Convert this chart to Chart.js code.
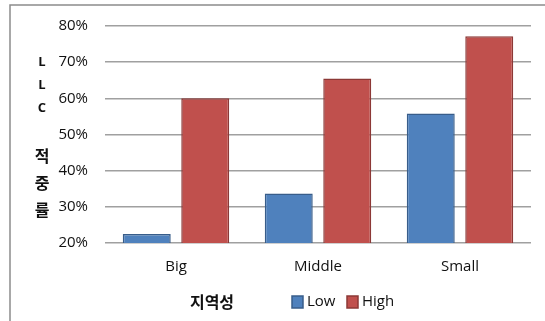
<!DOCTYPE html>
<html>
<head>
<meta charset="utf-8">
<script src="https://cdn.jsdelivr.net/npm/chart.js@4"></script>
<style>
  html, body { margin: 0; padding: 0; background: #fff; }
  #wrap { width: 545px; height: 321px; }
</style>
</head>
<body>
<div id="wrap"><canvas id="hitChart"></canvas></div>
<script>
const regions = ['Big', 'Middle', 'Small'];
const seriesNames = ['Low', 'High'];
const lowValues = [22.5, 33.7, 55.8];
const highValues = [60.0, 65.5, 77.2];
const yTitleChars = ['L', 'L', 'C', '적', '중', '률'];
const xTitle = '지역성';

const FONT = "'Open Sans', 'Noto Sans CJK KR', sans-serif";
const KFONT = "'Noto Sans CJK KR', 'Open Sans', sans-serif";

// frame, stacked y title, x title and legend are drawn by hand
const extras = {
    id: 'extras',
    beforeDraw(chart) {
        const c = chart.ctx;
        c.save();
        c.strokeStyle = '#8c8c8c';
        c.lineWidth = 1.5;
        c.beginPath();
        c.moveTo(10, 321);
        c.lineTo(10, 5);
        c.lineTo(545, 5);
        c.stroke();
        c.restore();
    },
    afterDraw(chart) {
        const c = chart.ctx;
        c.save();
        c.fillStyle = '#111';
        c.textAlign = 'center';
        c.textBaseline = 'middle';
        const ys = [62, 85, 108, 156, 183, 210];
        yTitleChars.forEach((ch, i) => {
            c.font = i < 3 ? 'bold 13px ' + FONT : 'bold 16px ' + KFONT;
            c.fillText(ch, 42, ys[i]);
        });

        c.font = 'bold 16px ' + KFONT;
        c.fillText(xTitle, 212, 302);

        c.font = '15px ' + FONT;
        c.textAlign = 'left';
        const boxX = [292, 347];
        chart.data.datasets.forEach((ds, i) => {
            c.fillStyle = ds.backgroundColor;
            c.strokeStyle = ds.borderColor;
            c.lineWidth = 1.5;
            c.fillRect(boxX[i], 296, 11, 12);
            c.strokeRect(boxX[i], 296, 11, 12);
            c.fillStyle = '#111';
            c.fillText(ds.label, boxX[i] + 15, 302);
        });
        c.restore();
    }
};

new Chart(document.getElementById('hitChart'), {
    type: 'bar',
    data: {
        labels: regions,
        datasets: [{
            label: seriesNames[0],
            data: lowValues,
            backgroundColor: '#4F81BD',
            borderColor: '#385D8A',
            borderWidth: 1.5,
            borderSkipped: false,
            categoryPercentage: 0.824,
            barPercentage: 0.82
        }, {
            label: seriesNames[1],
            data: highValues,
            backgroundColor: '#C0504D',
            borderColor: '#8C3836',
            borderWidth: 1.5,
            borderSkipped: false,
            categoryPercentage: 0.824,
            barPercentage: 0.82
        }]
    },
    options: {
        responsive: true,
        maintainAspectRatio: false,
        animation: false,
        layout: {
            padding: { left: 0, top: 23, right: 14, bottom: 38 }
        },
        plugins: {
            legend: { display: false },
            tooltip: { enabled: false }
        },
        scales: {
            x: {
                afterFit: function (scale) { scale.height = 40; },
                grid: { display: false, drawTicks: false },
                border: { display: false },
                ticks: {
                    padding: 15,
                    color: '#111',
                    font: { family: FONT, size: 15 }
                }
            },
            y: {
                min: 20,
                max: 80,
                afterFit: function (scale) { scale.width = 105; },
                grid: { color: '#a0a0a0', lineWidth: 1.5, drawTicks: false },
                border: { display: false },
                ticks: {
                    stepSize: 10,
                    padding: 17,
                    color: '#111',
                    font: { family: FONT, size: 15 },
                    callback: function (value) { return value + '%'; }
                }
            }
        }
    },
    plugins: [extras]
});
</script>
</body>
</html>
